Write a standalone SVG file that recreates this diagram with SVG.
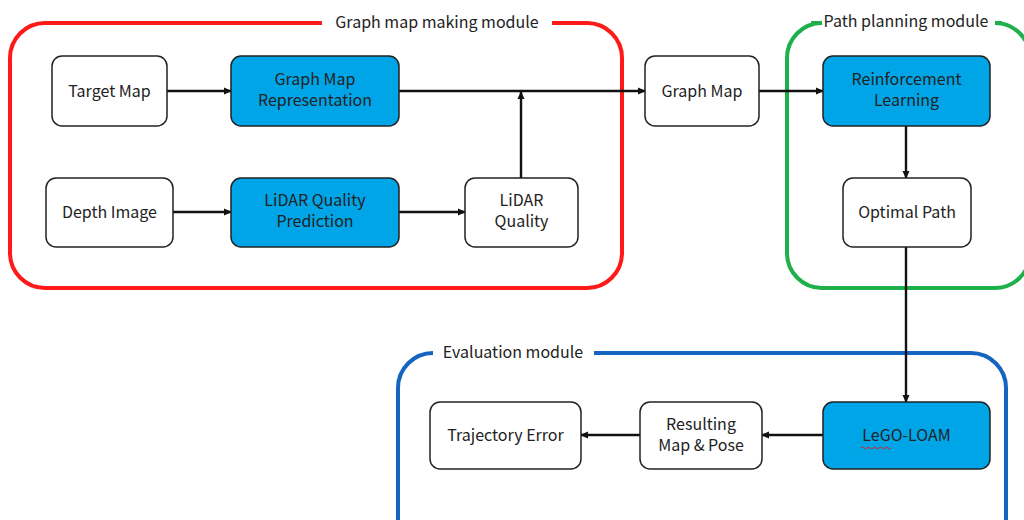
<svg xmlns="http://www.w3.org/2000/svg" width="1024" height="520" viewBox="0 0 1024 520">
<defs>
<style>
.node{fill:#fff;stroke:#222;stroke-width:1.5}
.blue{fill:#00a5e8;stroke:#222;stroke-width:1.5}
.t{font-family:"Noto Sans CJK KR","Noto Sans",sans-serif;font-size:16px;fill:#222;text-anchor:middle}
.lbl{font-family:"Noto Sans CJK KR","Noto Sans",sans-serif;font-size:16px;fill:#222;text-anchor:middle}
.frame{fill:none;stroke-width:4}
.c{fill:none;stroke:#111;stroke-width:2.4}
</style>
<marker id="ah" markerWidth="8" markerHeight="8" refX="7" refY="4" orient="auto" markerUnits="userSpaceOnUse">
<path d="M0,0.5 L8,4 L0,7.5 Z" fill="#111"/>
</marker>
</defs>
<rect width="1024" height="520" fill="#fff"/>
<g id="frames">
<path class="frame" stroke="#ff1a1a" d="M322,23 H45 A35,35 0 0 0 10,58 V253 A35,35 0 0 0 45,288 H587 A35,35 0 0 0 622,253 V58 A35,35 0 0 0 587,23 H552"/>
<text class="lbl" x="437" y="28">Graph map making module</text>
<path class="frame" stroke="#1db04b" d="M811,23 H822 A35,35 0 0 0 787,58 V253 A35,35 0 0 0 822,288 H995 A35,35 0 0 0 1030,253 V58 A35,35 0 0 0 995,23 H1002"/>
<text class="lbl" x="906" y="27">Path planning module</text>
<path class="frame" stroke="#1565c0" d="M433,353 A35,35 0 0 0 398,388 V540 M1006,540 V388 A35,35 0 0 0 971,353 H594"/>
<text class="lbl" x="513" y="358">Evaluation module</text>
</g>
<g id="connectors">
<line class="c" x1="167" y1="91" x2="231" y2="91" marker-end="url(#ah)"/>
<line class="c" x1="399" y1="91" x2="645" y2="91" marker-end="url(#ah)"/>
<line class="c" x1="521" y1="178" x2="521" y2="92" marker-end="url(#ah)"/>
<line class="c" x1="173" y1="212" x2="231" y2="212" marker-end="url(#ah)"/>
<line class="c" x1="399" y1="212" x2="465" y2="212" marker-end="url(#ah)"/>
<line class="c" x1="759" y1="91" x2="823" y2="91" marker-end="url(#ah)"/>
<line class="c" x1="906" y1="126" x2="906" y2="178" marker-end="url(#ah)"/>
<line class="c" x1="906" y1="247" x2="906" y2="402" marker-end="url(#ah)"/>
<line class="c" x1="823" y1="435" x2="762" y2="435" marker-end="url(#ah)"/>
<line class="c" x1="640" y1="435" x2="581" y2="435" marker-end="url(#ah)"/>
</g>
<g id="target-map"><rect class="node" x="52" y="56" width="115" height="70" rx="10"/><text class="t" x="109.5" y="97">Target Map</text></g>
<g id="graph-map-representation"><rect class="blue" x="231" y="56" width="168" height="70" rx="10"/><text class="t" x="315" y="85">Graph Map</text><text class="t" x="315" y="106">Representation</text></g>
<g id="depth-image"><rect class="node" x="46" y="178" width="127" height="69" rx="10"/><text class="t" x="109.5" y="218">Depth Image</text></g>
<g id="lidar-quality-prediction"><rect class="blue" x="231" y="178" width="168" height="69" rx="10"/><text class="t" x="315" y="206">LiDAR Quality</text><text class="t" x="315" y="227">Prediction</text></g>
<g id="lidar-quality"><rect class="node" x="465" y="178" width="113" height="69" rx="10"/><text class="t" x="521.5" y="206">LiDAR</text><text class="t" x="521.5" y="227">Quality</text></g>
<g id="graph-map"><rect class="node" x="645" y="56" width="114" height="70" rx="10"/><text class="t" x="702" y="97">Graph Map</text></g>
<g id="reinforcement-learning"><rect class="blue" x="823" y="56" width="167" height="70" rx="10"/><text class="t" x="906.5" y="85">Reinforcement</text><text class="t" x="906.5" y="106">Learning</text></g>
<g id="optimal-path"><rect class="node" x="843" y="178" width="128" height="69" rx="10"/><text class="t" x="907" y="218">Optimal Path</text></g>
<g id="lego-loam"><rect class="blue" x="823" y="402" width="167" height="67" rx="10"/><text class="t" x="906.5" y="441">LeGO-LOAM</text><path d="M861,448 q1.5,-2 3,0 t3,0 t3,0 t3,0 t3,0 t3,0 t3,0 t3,0 t3,0 t3,0" fill="none" stroke="#e02020" stroke-width="1"/></g>
<g id="resulting-map-pose"><rect class="node" x="640" y="402" width="122" height="67" rx="10"/><text class="t" x="701" y="430">Resulting</text><text class="t" x="701" y="451">Map &amp; Pose</text></g>
<g id="trajectory-error"><rect class="node" x="430" y="402" width="151" height="67" rx="10"/><text class="t" x="505.5" y="441">Trajectory Error</text></g>
</svg>
